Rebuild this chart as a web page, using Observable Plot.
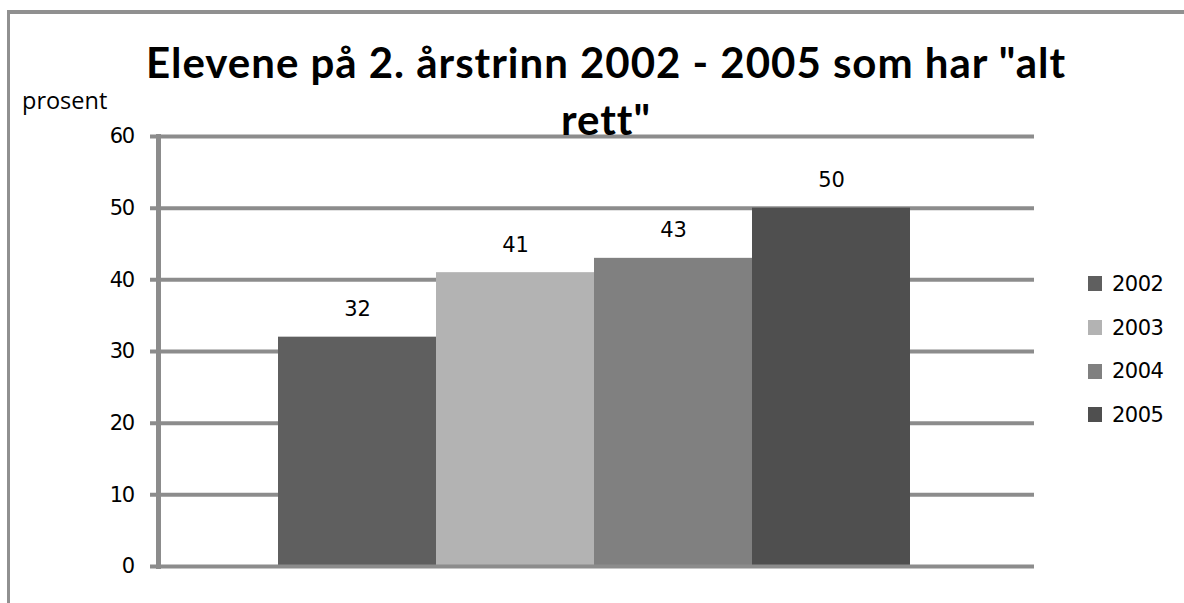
<!DOCTYPE html>
<html><head><meta charset="utf-8">
<script src="https://cdn.jsdelivr.net/npm/d3@7"></script>
<script src="https://cdn.jsdelivr.net/npm/@observablehq/plot@0.6"></script>
<style>
body{margin:0;background:#fff;}
#wrap{position:relative;width:1184px;height:603px;overflow:hidden;background:#fff;}
#frame{position:absolute;left:7px;top:10px;right:-10px;bottom:-10px;border-top:4px solid #909090;border-left:3px solid #909090;}
#chart{position:absolute;left:0;top:0;}
#title{position:absolute;left:0;width:1212px;top:34px;text-align:center;font-family:"Lato";font-weight:700;font-size:42px;line-height:57px;color:#000;white-space:nowrap;}
#prosent{position:absolute;left:22px;top:85px;font-family:"Open Sans";font-size:23.5px;line-height:30px;color:#000;}
#legend{position:absolute;left:1088px;top:262px;font-family:"DejaVu Sans";font-size:21px;color:#000;}
#legend .row{height:43.7px;display:flex;align-items:center;}
#legend .sw{width:14px;height:15px;margin-right:10px;}
#legend .lb{letter-spacing:-0.5px;}
svg [aria-label="y-axis tick label"] text{letter-spacing:-1.5px;}
</style>
</head><body>
<div id="wrap">
  <div id="frame"></div>
  <div id="chart"></div>
  <div id="prosent">prosent</div>
  <div id="title"></div>
  <div id="legend"></div>
</div>
<script>
const titleLines = ["Elevene på 2. årstrinn 2002 - 2005 som har \"alt", "rett\""];
const yLabel = "prosent";
const years = ["2002", "2003", "2004", "2005"];
const values = [32, 41, 43, 50];
const colors = ["#5f5f5f", "#b3b3b3", "#808080", "#4f4f4f"];
const yTicks = [0, 10, 20, 30, 40, 50, 60];

const data = years.map((y, i) => ({year: y, value: values[i]}));

const titleEl = document.getElementById("title");
titleLines.forEach(t => {
  const d = document.createElement("div");
  const s = document.createElement("span");
  s.textContent = t;
  d.appendChild(s);
  titleEl.appendChild(d);
});
// fit first title line to the reference's width
const firstSpan = titleEl.querySelector("span");
const w0 = firstSpan.getBoundingClientRect().width;
const ls = (920 - w0) / titleLines[0].length;
titleEl.style.letterSpacing = ls + "px";
document.getElementById("prosent").textContent = yLabel;

const grid = "#8c8c8c";
const chart = Plot.plot({
  width: 1184,
  height: 603,
  marginTop: 136,
  marginBottom: 37,
  marginLeft: 158,
  marginRight: 150,
  style: {background: "transparent", fontFamily: "DejaVu Sans", fontSize: "21px", color: "#000"},
  x: {domain: years, paddingInner: 0, paddingOuter: 0.759, align: 0.492, axis: null},
  y: {domain: [0, 60], axis: null},
  color: {domain: years, range: colors},
  marks: [
    Plot.ruleY(yTicks.filter(t => t > 0), {stroke: grid, strokeWidth: 4, insetLeft: -8}),
    Plot.barY(data, {x: "year", y: "value", fill: "year"}),
    Plot.ruleY([0], {stroke: grid, strokeWidth: 4, insetLeft: -8}),
    Plot.frame({anchor: "left", stroke: grid, strokeWidth: 5}),
    Plot.axisY({ticks: yTicks, tickSize: 0, tickPadding: 25, fill: "#000", fontSize: 21, fontFamily: "DejaVu Sans", label: null}),
    Plot.text(data, {x: "year", y: "value", text: d => String(d.value), dy: -21, lineAnchor: "bottom", fill: "#000", fontSize: 21, fontFamily: "DejaVu Sans"})
  ]
});
document.getElementById("chart").appendChild(chart);

const legend = document.getElementById("legend");
years.forEach((y, i) => {
  const row = document.createElement("div");
  row.className = "row";
  row.innerHTML = `<span class="sw" style="background:${colors[i]}"></span><span class="lb">${y}</span>`;
  legend.appendChild(row);
});
</script>
</body></html>
